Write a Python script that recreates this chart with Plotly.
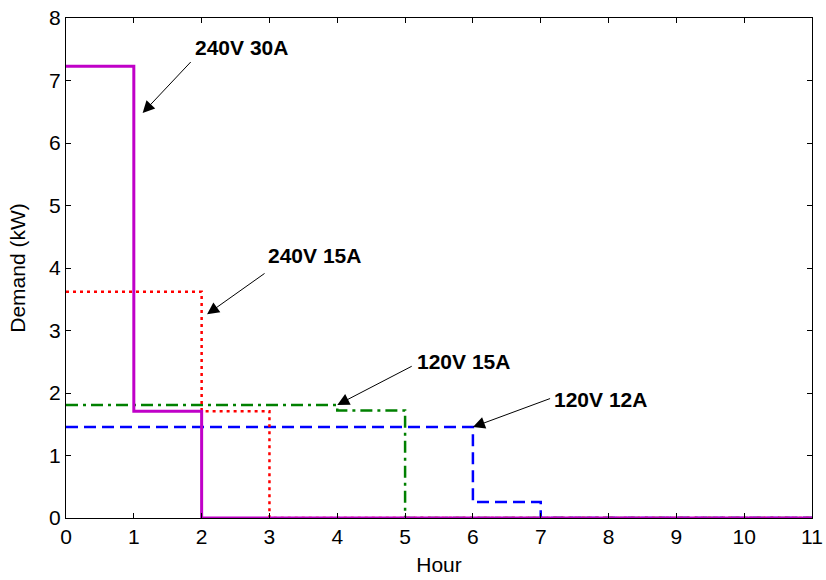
import plotly.graph_objects as go

# Step data (value holds from hour x[i] to x[i+1])
hours_30a = [0, 1, 2, 11]
demand_240v_30a = [7.23, 1.71, 0, 0]
hours_240_15a = [0, 2, 3, 11]
demand_240v_15a = [3.62, 1.71, 0, 0]
hours_120_15a = [0, 4, 5, 11]
demand_120v_15a = [1.81, 1.72, 0, 0]
hours_120_12a = [0, 6, 7, 11]
demand_120v_12a = [1.455, 0.255, 0, 0]

labels = ["240V 30A", "240V 15A", "120V 15A", "120V 12A"]
# arrow tip (x, y), arrow tail (x, y), label position (x, y)
arrow_tips = [(1.13, 6.48), (2.08, 3.26), (4.0, 1.81), (6.0, 1.455)]
arrow_tails = [(1.86, 7.32), (2.95, 3.93), (5.12, 2.44), (7.16, 1.92)]
label_pos = [(2.59, 7.53), (3.67, 4.2), (5.86, 2.5), (7.88, 1.9)]

FONT = "Liberation Sans, Arial"

fig = go.Figure()
fig.add_trace(go.Scatter(x=hours_120_12a, y=demand_120v_12a, mode="lines", line_shape="hv",
                         line=dict(color="#0000FF", width=2.5, dash="12px,6px"), name=labels[3]))
fig.add_trace(go.Scatter(x=hours_120_15a, y=demand_120v_15a, mode="lines", line_shape="hv",
                         line=dict(color="#008000", width=2.5, dash="12px,5px,3px,5px"), name=labels[2]))
fig.add_trace(go.Scatter(x=hours_240_15a, y=demand_240v_15a, mode="lines", line_shape="hv",
                         line=dict(color="#FF0000", width=2.5, dash="3px,4px"), name=labels[1]))
fig.add_trace(go.Scatter(x=hours_30a, y=demand_240v_30a, mode="lines", line_shape="hv",
                         line=dict(color="#C000C8", width=3), name=labels[0]))

for lab, tip, tail, pos in zip(labels, arrow_tips, arrow_tails, label_pos):
    fig.add_annotation(x=tip[0], y=tip[1], ax=tail[0], ay=tail[1], axref="x", ayref="y",
                       xref="x", yref="y", text="", showarrow=True, arrowhead=2,
                       arrowsize=2.4, arrowwidth=1, arrowcolor="black")
    fig.add_annotation(x=pos[0], y=pos[1], xref="x", yref="y", text="<b>" + lab + "</b>",
                       showarrow=False, font=dict(family=FONT, size=21, color="black"))

axis_common = dict(showline=True, linecolor="black", linewidth=1, mirror="ticks",
                   ticks="inside", ticklen=5, tickcolor="black", showgrid=False, zeroline=False,
                   automargin=False,
                   tickfont=dict(family=FONT, size=21, color="black"))
fig.update_xaxes(range=[0, 11], tickmode="linear", tick0=0, dtick=1,
                 title=dict(text="Hour", font=dict(family=FONT, size=21, color="black"),
                            standoff=10), **axis_common)
fig.update_yaxes(range=[0, 8], tickmode="linear", tick0=0, dtick=1,
                 title=dict(text="Demand (kW)", font=dict(family=FONT, size=21, color="black"),
                            standoff=17), **axis_common)
fig.update_layout(width=826, height=580, margin=dict(l=66, r=14, t=18, b=62),
                  plot_bgcolor="white", paper_bgcolor="white", showlegend=False)
fig.write_html("out.html")
